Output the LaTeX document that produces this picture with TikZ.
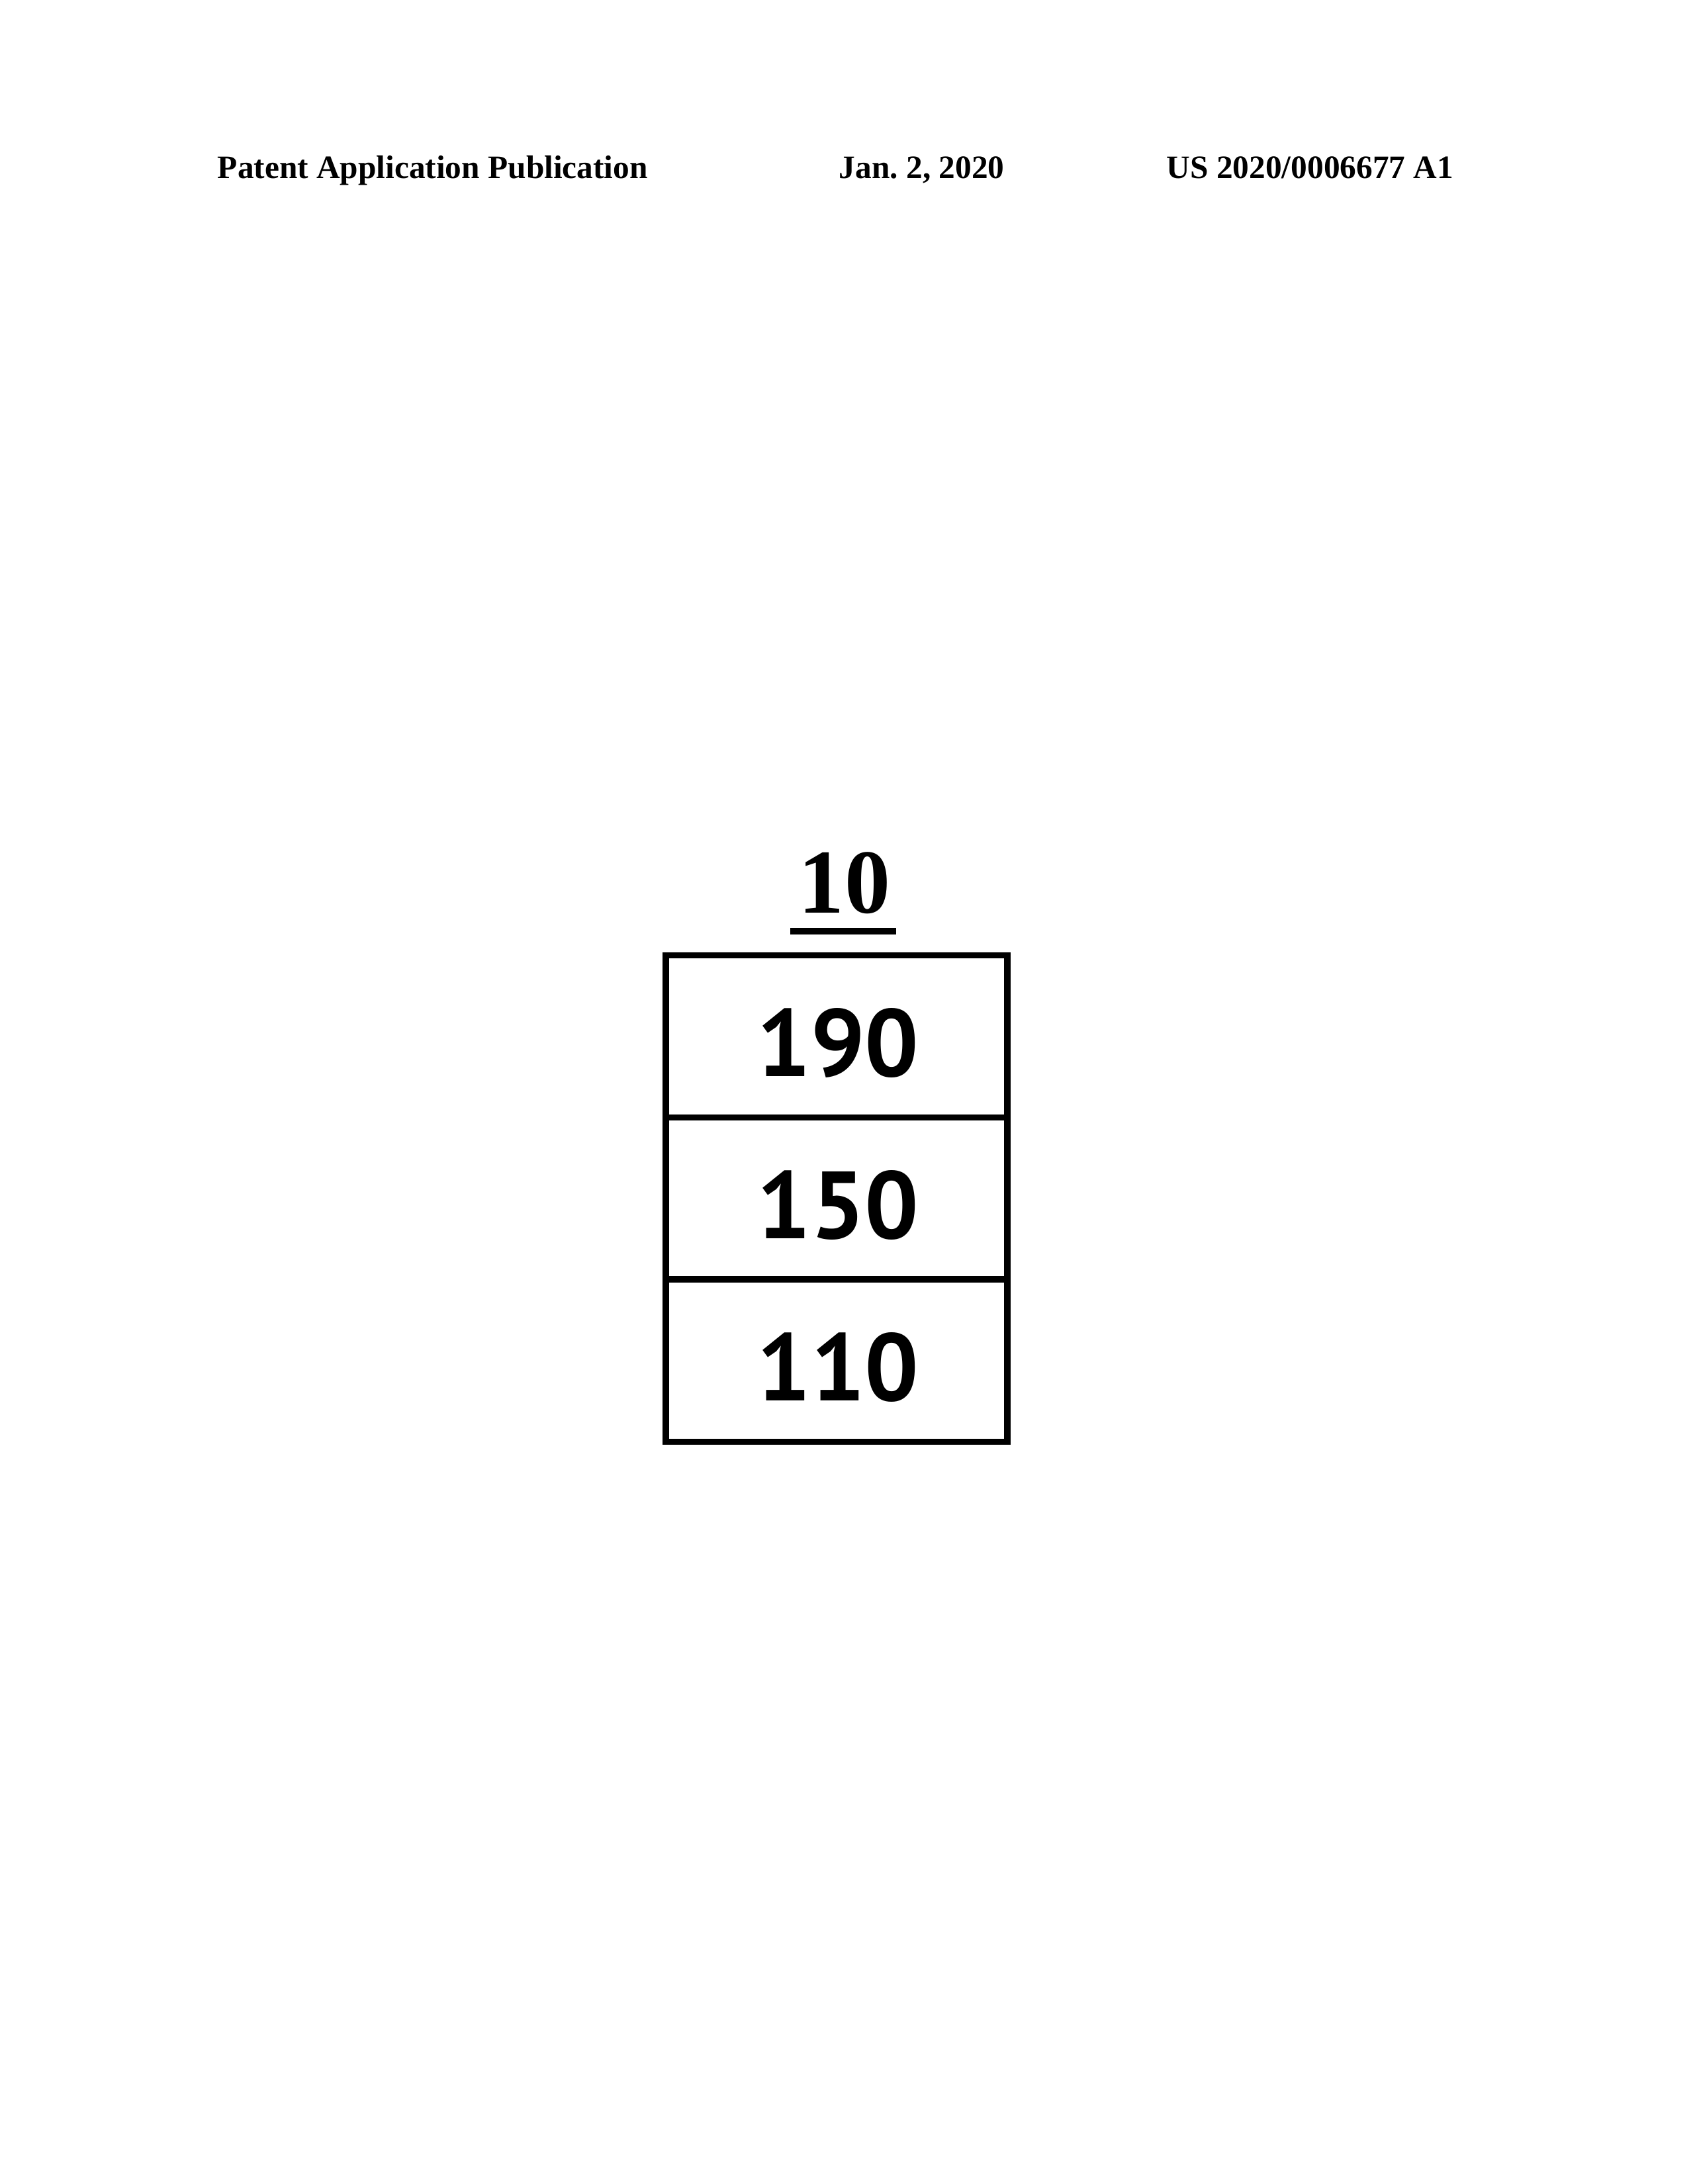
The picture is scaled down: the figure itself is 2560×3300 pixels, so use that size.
\documentclass[tikz,border=0pt]{standalone}
\usepackage{fontspec}
\setmainfont{Liberation Serif}
\newfontfamily\digitfont{PT Sans}
\frenchspacing
\begin{document}
\begin{tikzpicture}[x=0.2390625pt,y=-0.2390625pt,
  hdr/.style={anchor=base west,inner sep=0pt,font=\fontsize{11.8}{14}\selectfont\bfseries},
  layer/.style={draw,line width=2.2pt,rectangle,inner sep=0pt,outer sep=0pt,
    minimum width=123.36pt,minimum height=58.5pt},
  num/.style={inner sep=0pt,font=\digitfont\fontsize{34.5}{40}\selectfont\bfseries}]
\useasboundingbox (0,0) rectangle (2560,3300);
\node[hdr] (h1) at (328,269) {Patent Application Publication};
\node[hdr] (h2) at (1267,269) {Jan. 2, 2020};
\node[hdr] (h3) at (1762,269) {US 2020/0006677 A1};
\node[anchor=base,inner sep=0pt,font=\fontsize{33}{38}\selectfont\bfseries] (ref) at (1276,1379) {10};
\coordinate (ul1) at (1194,1407);
\coordinate (ul2) at (1354,1407);
\draw[line width=2.2pt] (ul1) -- (ul2);
\node[layer] (b190) at (1264,1566) {};
\node[layer] (b150) at (1264,1810.5) {};
\node[layer] (b110) at (1264,2056) {};
\node[num] (t190) at (1266,1576) {190};
\node[num] (t150) at (1266,1821) {150};
\node[num] (t110) at (1266,2066) {110};
\end{tikzpicture}
\end{document}
